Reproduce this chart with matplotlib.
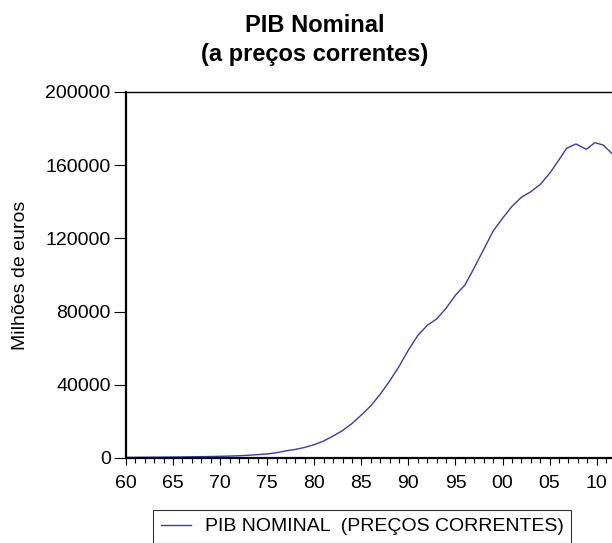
import matplotlib.pyplot as plt
from matplotlib.ticker import MultipleLocator, FuncFormatter

plt.rcParams['font.family'] = ['Liberation Sans', 'DejaVu Sans']

# valores (milhões de euros)
anos = [1960, 1961, 1962, 1963, 1964, 1965, 1966, 1967, 1968, 1969,
        1970, 1971, 1972, 1973, 1974, 1975, 1976, 1977, 1978, 1979,
        1980, 1981, 1982, 1983, 1984, 1985, 1986, 1987, 1988, 1989,
        1990, 1991, 1992, 1993, 1994, 1995, 1996, 1997, 1998, 1999,
        2000, 2001, 2002, 2003, 2004, 2005, 2006, 2006.8, 2007.8, 2008.9,
        2009.8, 2010.7, 2011.6, 2012.2]
pib = [350, 380, 410, 450, 490, 540, 600, 670, 740, 820,
       930, 1050, 1230, 1500, 1850, 2200, 2900, 3900, 4700, 5800,
       7300, 9300, 12000, 15000, 18800, 23500, 28500, 34800, 42000, 50000,
       59000, 67000, 72500, 76000, 81800, 89000, 94500, 104000, 114000, 124000,
       131000, 137500, 142500, 145500, 149500, 155500, 163000, 169200, 171600, 168700,
       172300, 171000, 166500, 163500]

titulo = 'PIB Nominal\n(a preços correntes)'
rotulo_y = 'Milhões de euros'
legenda = 'PIB NOMINAL  (PREÇOS CORRENTES)'

fig = plt.figure(figsize=(6.12, 5.43), dpi=100)
ax = fig.add_axes([126 / 612, 1 - 458 / 543, 1 - 126 / 612, (458 - 92) / 543])

linha, = ax.plot(anos, pib, color='#3c3ca8', lw=1.0, label=legenda)

ax.set_xlim(1960, 1960 + (612 - 126.7) / 9.4)
ax.set_ylim(0, 200000)
ax.xaxis.set_major_locator(MultipleLocator(5))
ax.xaxis.set_minor_locator(MultipleLocator(1))
ax.xaxis.set_major_formatter(FuncFormatter(lambda v, p: f'{int(round(v)) % 100:02d}'))
ax.yaxis.set_major_locator(MultipleLocator(40000))
ax.yaxis.set_major_formatter(FuncFormatter(lambda v, p: f'{int(v)}'))

ax.spines['right'].set_visible(False)
ax.spines['left'].set_linewidth(1.6)
ax.spines['bottom'].set_linewidth(1.6)
ax.spines['top'].set_linewidth(1.0)
ax.tick_params(axis='both', which='major', direction='out', length=5, width=0.8,
               labelsize=14)
ax.tick_params(axis='x', which='major', pad=7)
ax.tick_params(axis='x', which='minor', direction='out', length=3.5, width=0.8)
ax.tick_params(axis='y', which='major', length=9, pad=2)

ax.set_ylabel(rotulo_y, fontsize=14)
ax.yaxis.set_label_coords(-0.20, 0.5)

fig.text(315 / 612, 1 - 40 / 543, titulo, ha='center', va='center',
         fontsize=17, fontweight='bold', linespacing=1.3)

leg = fig.legend(handles=[linha], loc='upper left', bbox_to_anchor=(153 / 612, 1 - 510 / 543),
                 frameon=True, fancybox=False, fontsize=14, handlelength=1.55,
                 borderpad=0.4, handletextpad=0.7, borderaxespad=0)
leg.get_frame().set_edgecolor('black')
leg.get_frame().set_linewidth(0.8)

fig.savefig('out.png', dpi=100)
